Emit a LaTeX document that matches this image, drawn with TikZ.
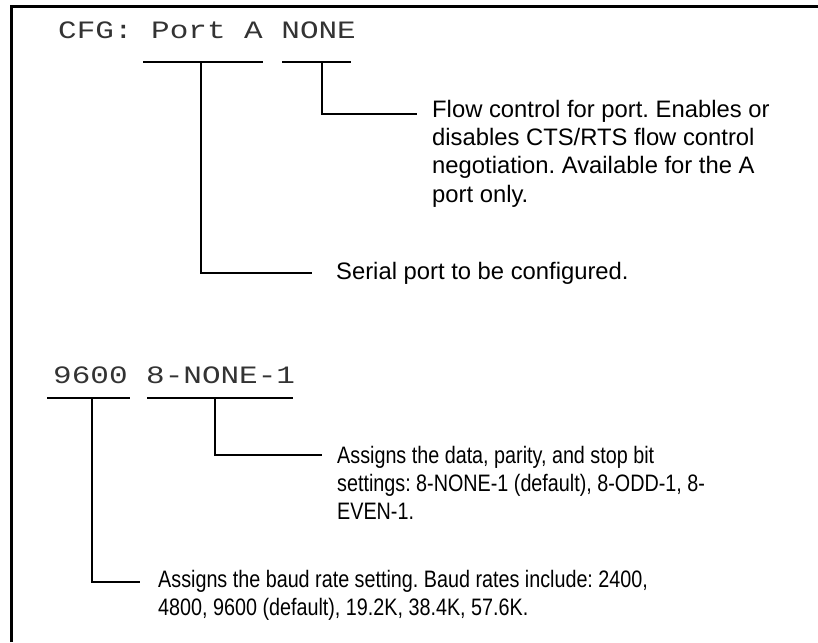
\documentclass[tikz,border=0pt]{standalone}
\usepackage{fontspec}
\setmainfont{Liberation Sans}
\newfontfamily\codefont[FakeStretch=1.24]{Liberation Mono}
\newfontfamily\narrowfont[FakeStretch=0.83]{Liberation Sans}
\frenchspacing
\begin{document}
\begin{tikzpicture}[x=1pt,y=-1pt,
  frame/.style={line width=3pt,line join=miter},
  conn/.style={line width=2pt},
  code/.style={inner sep=0pt,anchor=base west,text=black!80,font=\codefont\fontsize{25}{25}\selectfont},
  desc/.style={inner sep=0pt,anchor=base west,align=left,font=\frenchspacing\fontsize{23.8}{28.3}\selectfont},
  ndesc/.style={inner sep=0pt,anchor=base west,align=left,font=\frenchspacing\narrowfont\fontsize{23.8}{28.3}\selectfont}]
\useasboundingbox (0,0) rectangle (818,642);
% frame
\draw[frame] (11.5,642) -- (11.5,6.5) -- (818,6.5);
% codes
\node[code] (cfg) at (58,38) {CFG: Port A NONE};
\node[code] (baud) at (53,383) {9600 8-NONE-1};
% underlines
\coordinate (ua1) at (143,62); \coordinate (ua2) at (263,62); \coordinate (ua) at (201,62);
\coordinate (ub1) at (282,62); \coordinate (ub2) at (351,62); \coordinate (ub) at (322,62);
\coordinate (uc1) at (47,398); \coordinate (uc2) at (130,398); \coordinate (uc) at (92,398);
\coordinate (ud1) at (147,398); \coordinate (ud2) at (293,398); \coordinate (ud) at (215,398);
\draw[conn] (ua1) -- (ua2);
\draw[conn] (ub1) -- (ub2);
\draw[conn] (uc1) -- (uc2);
\draw[conn] (ud1) -- (ud2);
% descriptions (base anchor = last line baseline)
\node[desc] (flow) at (432,202) {Flow control for port. Enables or\\disables CTS/RTS flow control\\negotiation. Available for the A\\port only.};
\node[desc] (serial) at (336,279) {Serial port to be configured.};
\node[ndesc] (bits) at (337,519.6) {Assigns the data, parity, and stop bit\\settings: 8-NONE-1 (default), 8-ODD-1, 8-\\EVEN-1.};
\node[ndesc] (rate) at (158,615.3) {Assigns the baud rate setting. Baud rates include: 2400,\\4800, 9600 (default), 19.2K, 38.4K, 57.6K.};
% connector ends
\coordinate (eb) at (417,114);
\coordinate (ea) at (312,273);
\coordinate (ed) at (322,455);
\coordinate (ec) at (140,582);
\draw[conn] (ub) |- (eb);
\draw[conn] (ua) |- (ea);
\draw[conn] (ud) |- (ed);
\draw[conn] (uc) |- (ec);
\end{tikzpicture}
\end{document}
